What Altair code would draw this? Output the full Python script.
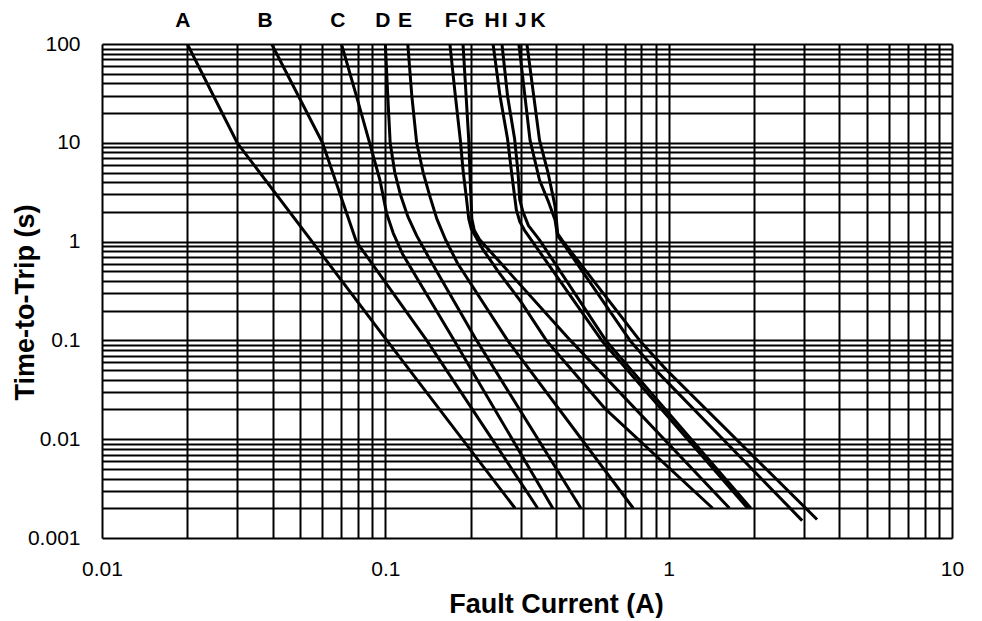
import altair as alt
import pandas as pd

# ---- data ----
curve_names = ["A", "B", "C", "D", "E", "F", "G", "H", "I", "J", "K"]

A_current = [0.02, 0.03, 0.1, 0.287]
A_time = [100, 10, 0.105, 0.002]
B_current = [0.0397, 0.06, 0.079, 0.14, 0.345]
B_time = [100, 10, 1.0, 0.1, 0.002]
C_current = [0.07, 0.079, 0.088, 0.0957, 0.101, 0.1066, 0.115, 0.175, 0.39]
C_time = [100, 30, 10, 4.2, 1.94, 1.22, 0.75, 0.1, 0.002]
D_current = [0.1, 0.102, 0.104, 0.108, 0.113, 0.12, 0.129, 0.142, 0.21, 0.49]
D_time = [100, 30, 10, 5.0, 3.0, 1.8, 1.15, 0.7, 0.1, 0.002]
E_current = [0.12, 0.124, 0.129, 0.136, 0.144, 0.152, 0.163, 0.18, 0.27, 0.75]
E_time = [100, 30, 10, 5.0, 2.8, 1.7, 1.05, 0.6, 0.1, 0.002]
F_current = [0.169, 0.176, 0.184, 0.188, 0.193, 0.197, 0.201, 0.22, 0.25, 0.3, 0.37, 0.6, 1.43]
F_time = [100, 33, 10.6, 5.3, 2.85, 1.7, 1.35, 0.85, 0.5, 0.25, 0.1, 0.02, 0.002]
G_current = [0.188, 0.197, 0.2, 0.202, 0.206, 0.215, 0.45, 1.64]
G_time = [100, 10.6, 3.3, 1.7, 1.3, 1.05, 0.1, 0.002]
H_current = [0.24, 0.254, 0.27, 0.28, 0.29, 0.298, 0.31, 0.58, 1.9]
H_time = [100, 29.7, 10.9, 4.6, 2.1, 1.6, 1.3, 0.1, 0.002]
I_current = [0.258, 0.27, 0.286, 0.294, 0.298, 0.306, 0.32, 0.35, 0.6, 1.95]
I_time = [100, 29.7, 10.9, 5.0, 2.66, 2.0, 1.45, 1.04, 0.1, 0.002]
J_current = [0.296, 0.324, 0.35, 0.375, 0.397, 0.405, 0.42, 0.73, 0.9, 2.96]
J_time = [100, 10.7, 4.2, 2.6, 1.66, 1.15, 1.0, 0.1, 0.05, 0.0015]
K_current = [0.316, 0.35, 0.375, 0.397, 0.406, 0.42, 0.79, 0.98, 3.34]
K_time = [100, 10.7, 5.0, 2.3, 1.2, 1.04, 0.1, 0.0506, 0.00154]

label_current = [0.0193, 0.0376, 0.068, 0.098, 0.1173, 0.1706, 0.1927, 0.238, 0.2635, 0.301, 0.346]

x_grid = [k * 10.0 ** e for e in (-2, -1, 0) for k in range(1, 10)] + [10.0]
y_grid = [k * 10.0 ** e for e in (-3, -2, -1, 0, 1) for k in range(1, 10)] + [100.0]

currents = [A_current, B_current, C_current, D_current, E_current, F_current,
            G_current, H_current, I_current, J_current, K_current]
times = [A_time, B_time, C_time, D_time, E_time, F_time,
         G_time, H_time, I_time, J_time, K_time]

rows = []
for name, xs, ts in zip(curve_names, currents, times):
    for i, (xv, tv) in enumerate(zip(xs, ts)):
        rows.append({"curve": name, "current": xv, "time": tv, "idx": i})
df = pd.DataFrame(rows)
labels_df = pd.DataFrame({"curve": curve_names, "current": label_current})

FONT = "Liberation Sans"

label_expr = ("abs(log(datum.value)/LN10 - round(log(datum.value)/LN10)) < 1e-6 "
              "? format(datum.value, '~g') : ''")

x_scale = alt.Scale(type="log", domain=[0.01, 10], nice=False)
y_scale = alt.Scale(type="log", domain=[0.001, 100], nice=False)

lines = alt.Chart(df).mark_line(color="black", strokeWidth=3, clip=True,
                                strokeJoin="round").encode(
    x=alt.X("current:Q", scale=x_scale,
            axis=alt.Axis(values=x_grid, grid=True, gridColor="black", gridWidth=2,
                          gridOpacity=1, ticks=False, domain=False,
                          labelExpr=label_expr, labelFont=FONT, labelFontSize=21,
                          labelColor="black", labelPadding=20, labelFlush=False,
                          labelOverlap=False,
                          title="Fault Current (A)", titleFont=FONT, titleFontSize=27,
                          titleFontWeight="bold", titleColor="black",
                          titleX=454, titleY=66, titleBaseline="middle")),
    y=alt.Y("time:Q", scale=y_scale,
            axis=alt.Axis(values=y_grid, grid=True, gridColor="black", gridWidth=2,
                          gridOpacity=1, ticks=False, domain=False,
                          labelExpr=label_expr, labelFont=FONT, labelFontSize=21,
                          labelColor="black", labelPadding=22, labelFlush=False,
                          labelOverlap=False, labelBaseline="middle",
                          title="Time-to-Trip (s)", titleFont=FONT, titleFontSize=27,
                          titleFontWeight="bold", titleColor="black",
                          titleX=-77, titleY=258, titleAngle=270,
                          titleBaseline="middle", titleAlign="center")),
    detail="curve:N",
    order="idx:Q",
)

letters = alt.Chart(labels_df).mark_text(
    font=FONT, fontSize=21, fontWeight="bold", color="black",
    align="center", baseline="alphabetic"
).encode(
    x=alt.X("current:Q", scale=x_scale),
    y=alt.value(-17),
    text="curve:N",
)

chart = alt.layer(lines, letters).properties(
    width=850, height=494,
    autosize=alt.AutoSizeParams(type="none"),
    padding={"left": 94, "top": 36, "right": 22, "bottom": 80},
).configure_view(stroke="black", strokeWidth=2).configure(background="white")

chart.save("out.html", embed_options={"renderer": "svg", "actions": False})
